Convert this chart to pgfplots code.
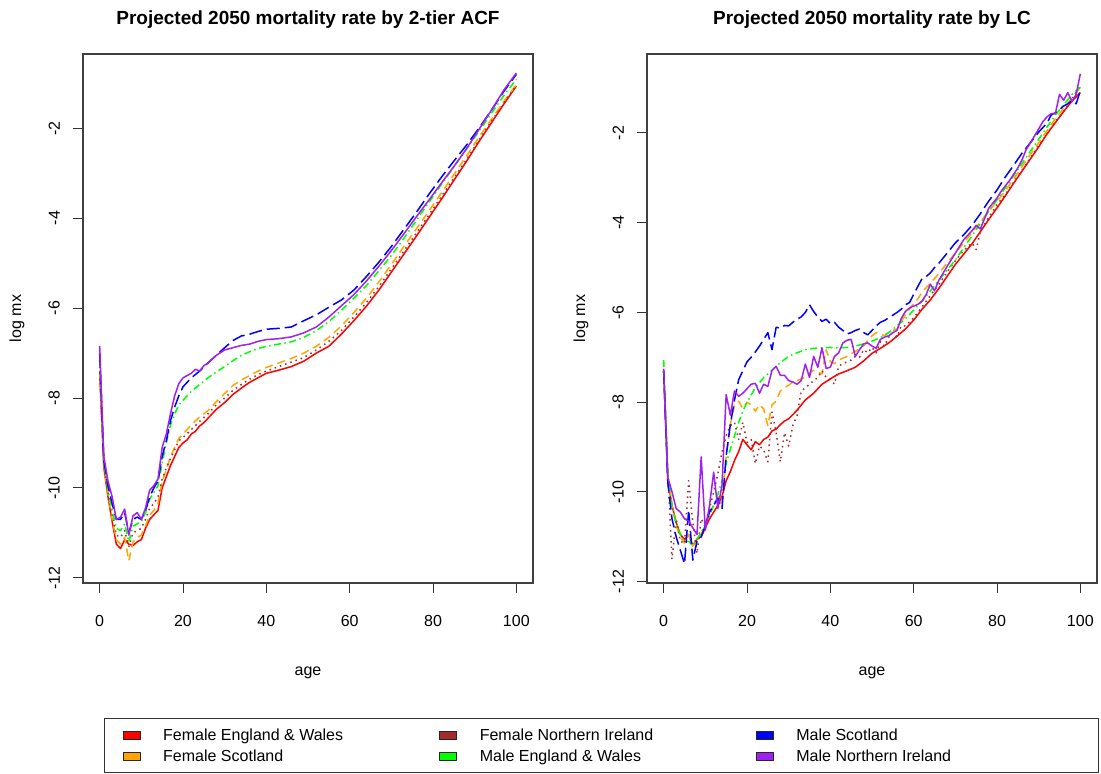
\documentclass[border=0pt]{standalone}
\usepackage{fontspec}
\setmainfont{Liberation Sans}
\usepackage{pgfplots}
\pgfplotsset{compat=1.18}

\definecolor{rred}{RGB}{255,0,0}
\definecolor{rorange}{RGB}{255,165,0}
\definecolor{rbrown}{RGB}{165,42,42}
\definecolor{rgreen}{RGB}{0,255,0}
\definecolor{rblue}{RGB}{0,0,255}
\definecolor{rpurple}{RGB}{160,32,240}

\newcommand{\lblfont}{\fontsize{16}{19}\selectfont}

\pgfplotsset{
  panel/.style={
    width=450pt, height=529pt, scale only axis,
    xmin=-4, xmax=104,
    xtick={0,20,...,100}, ytick={-12,-10,...,-2},
    tick pos=left, tick align=outside, major tick length=10pt,
    axis line style={line width=1.2pt, draw=black!75},
    every tick/.style={line width=1pt, black!80},
    tick label style={font=\lblfont},
    /pgf/number format/assume math mode=true,
    xticklabel style={inner ysep=22pt},
    yticklabel style={rotate=90, anchor=south, inner ysep=13pt},
    xlabel={age}, ylabel={log mx},
    label style={font=\lblfont},
    xlabel style={at={(axis description cs:0.5,-0.170)}, anchor=center},
    ylabel style={at={(axis description cs:-0.1467,0.5)}, anchor=center},
    title style={at={(axis description cs:0.5,1.053)}, anchor=center,
                 font=\bfseries\fontsize{19}{22}\selectfont},
    every axis plot/.append style={line width=1.5pt, line join=round, forget plot},
  },
  few/.style={rred, solid},
  fs/.style={rorange, dash pattern=on 8pt off 5pt},
  fni/.style={rbrown, dash pattern=on 1.5pt off 4pt},
  mew/.style={rgreen, dash pattern=on 7pt off 3.5pt on 1.5pt off 3.5pt},
  ms/.style={rblue, dash pattern=on 13pt off 5pt},
  mni/.style={rpurple, solid},
}

\begin{document}
\begin{tikzpicture}
\useasboundingbox (0,0) rectangle (1101pt,774pt);

% ---------------- 2-tier ACF projection ----------------
\begin{axis}[panel, at={(83pt,191pt)}, anchor=south west,
  ymin=-12.115, ymax=-0.347,
  title={Projected 2050 mortality rate by 2-tier ACF},
  legend columns=3, legend cell align=left,
  legend image code/.code={\draw[#1, draw=black!85, line width=0.6pt] (0pt,-4pt) rectangle (17pt,4pt);},
  legend style={at={(axis description cs:0.0467,-0.2552)}, anchor=north west,
    draw=black!80, line width=1.2pt, inner xsep=18pt, inner ysep=8pt,
    font=\lblfont, row sep=4pt,
    /tikz/every odd column/.append style={column sep=21pt},
    /tikz/every even column/.append style={column sep=1pt}},
]
\addlegendimage{fill=rred}
\addlegendentry{\makebox[273pt][l]{Female England \& Wales}}
\addlegendimage{fill=rbrown}
\addlegendentry{\makebox[273pt][l]{Female Northern Ireland}}
\addlegendimage{fill=rblue}
\addlegendentry{\makebox[282pt][l]{Male Scotland}}
\addlegendimage{fill=rorange}
\addlegendentry{\makebox[273pt][l]{Female Scotland}}
\addlegendimage{fill=rgreen}
\addlegendentry{\makebox[273pt][l]{Male England \& Wales}}
\addlegendimage{fill=rpurple}
\addlegendentry{\makebox[282pt][l]{Male Northern Ireland}}

% Female England & Wales
\addplot[few] table {
0 -7.45
1 -9.55
2 -10.2
3 -10.75
4 -11.25
5 -11.35
6 -11.15
7 -11.25
8 -11.28
9 -11.2
10 -11.15
11 -10.9
12 -10.7
13 -10.6
14 -10.5
15 -10.0
16 -9.75
17 -9.5
18 -9.3
19 -9.1
20 -9.0
21 -8.93
22 -8.8
23 -8.74
24 -8.62
25 -8.55
26 -8.45
28 -8.25
30 -8.1
32 -7.92
34 -7.78
36 -7.65
38 -7.55
40 -7.45
43 -7.38
46 -7.3
49 -7.18
52 -7.0
55 -6.85
58 -6.58
61 -6.28
64 -5.96
67 -5.6
70 -5.2
73 -4.8
76 -4.4
79 -3.99
82 -3.58
85 -3.16
88 -2.74
91 -2.3
94 -1.88
97 -1.46
100 -1.06
};
% Female Scotland
\addplot[fs] table {
0 -7.4
1 -9.5
2 -10.15
3 -10.7
4 -11.15
5 -11.25
6 -11.1
7 -11.62
8 -11.2
9 -11.1
10 -11.05
11 -10.85
12 -10.6
13 -10.5
14 -10.35
15 -9.85
16 -9.6
17 -9.3
18 -9.1
19 -8.9
20 -8.8
22 -8.6
24 -8.42
26 -8.28
28 -8.08
30 -7.9
32 -7.72
34 -7.6
36 -7.5
38 -7.4
40 -7.32
43 -7.22
46 -7.12
49 -7.0
52 -6.85
55 -6.65
58 -6.4
61 -6.1
64 -5.78
67 -5.42
70 -5.03
73 -4.63
76 -4.24
79 -3.84
82 -3.44
85 -3.03
88 -2.62
91 -2.2
94 -1.8
97 -1.4
100 -1.03
};
% Female Northern Ireland
\addplot[fni] table {
0 -7.3
1 -9.45
2 -10.1
3 -10.6
4 -11.05
5 -11.1
6 -10.95
7 -11.3
8 -11.0
9 -10.95
10 -10.9
11 -10.7
12 -10.45
13 -10.35
14 -10.2
15 -9.8
16 -9.55
17 -9.35
18 -9.15
19 -8.95
20 -8.88
22 -8.7
24 -8.52
26 -8.35
28 -8.15
30 -8.0
32 -7.83
34 -7.7
36 -7.58
38 -7.48
40 -7.4
43 -7.3
46 -7.2
49 -7.1
52 -6.93
55 -6.74
58 -6.5
61 -6.2
64 -5.88
67 -5.52
70 -5.13
73 -4.73
76 -4.33
79 -3.93
82 -3.52
85 -3.11
88 -2.7
91 -2.27
94 -1.85
97 -1.44
100 -1.04
};
% Male England & Wales
\addplot[mew] table {
0 -7.15
1 -9.45
2 -10.05
3 -10.5
4 -10.9
5 -10.95
6 -10.8
7 -11.2
8 -10.85
9 -10.8
10 -10.75
11 -10.55
12 -10.25
13 -10.1
14 -9.95
15 -9.45
16 -9.0
17 -8.6
18 -8.35
19 -8.15
20 -8.05
22 -7.85
24 -7.7
26 -7.55
28 -7.42
30 -7.3
32 -7.17
34 -7.05
36 -6.97
38 -6.9
40 -6.85
43 -6.8
46 -6.75
49 -6.65
52 -6.5
55 -6.3
58 -6.05
61 -5.78
64 -5.5
67 -5.17
70 -4.83
73 -4.45
76 -4.05
79 -3.65
82 -3.25
85 -2.86
88 -2.47
91 -2.07
94 -1.67
97 -1.27
100 -0.91
};
% Male Scotland
\addplot[ms] table {
0 -7.0
1 -9.4
2 -9.95
3 -10.35
4 -10.7
5 -10.7
6 -10.55
7 -11.0
8 -10.7
9 -10.65
10 -10.7
11 -10.5
12 -10.2
13 -10.0
14 -9.85
15 -9.3
16 -8.95
17 -8.5
18 -8.2
19 -7.95
20 -7.75
22 -7.55
24 -7.4
26 -7.22
28 -7.05
30 -6.88
32 -6.72
34 -6.62
36 -6.58
38 -6.52
40 -6.47
43 -6.45
46 -6.42
49 -6.28
52 -6.15
55 -5.98
58 -5.82
61 -5.6
64 -5.3
67 -4.98
70 -4.63
73 -4.25
76 -3.87
79 -3.47
82 -3.09
85 -2.73
88 -2.38
91 -2.0
94 -1.6
97 -1.18
100 -0.8
};
% Male Northern Ireland
\addplot[mni] table {
0 -6.84
1 -9.3
2 -9.85
3 -10.2
4 -10.7
5 -10.65
6 -10.47
7 -11.05
8 -10.62
9 -10.55
10 -10.7
11 -10.45
12 -10.05
13 -9.95
14 -9.8
15 -9.1
16 -8.8
17 -8.35
18 -7.95
19 -7.68
20 -7.55
21 -7.5
22 -7.45
23 -7.36
24 -7.4
25 -7.28
26 -7.22
28 -7.05
30 -6.93
32 -6.88
34 -6.83
36 -6.8
38 -6.74
40 -6.7
43 -6.68
46 -6.64
49 -6.55
52 -6.42
55 -6.2
58 -5.95
61 -5.7
64 -5.4
67 -5.07
70 -4.72
73 -4.35
76 -3.97
79 -3.6
82 -3.22
85 -2.85
88 -2.46
91 -2.03
94 -1.6
97 -1.15
100 -0.77
};
\end{axis}

% ---------------- Lee-Carter projection ----------------
\begin{axis}[panel, at={(647pt,191pt)}, anchor=south west,
  ymin=-12.03, ymax=-0.24,
  title={Projected 2050 mortality rate by LC},
]
% Female England & Wales
\addplot[few] table {
0 -7.3
1 -9.75
2 -10.3
3 -10.68
4 -10.95
5 -11.06
6 -10.95
7 -11.2
8 -11.05
9 -11.0
10 -10.8
11 -10.6
12 -10.45
13 -10.3
14 -10.1
15 -9.75
16 -9.55
17 -9.3
18 -9.1
19 -8.83
20 -8.95
21 -9.06
22 -8.88
23 -8.95
24 -8.83
25 -8.78
26 -8.64
27 -8.6
28 -8.5
29 -8.42
30 -8.37
32 -8.18
34 -7.95
36 -7.8
38 -7.6
40 -7.48
42 -7.37
44 -7.3
46 -7.22
48 -7.08
50 -6.91
52 -6.8
54 -6.68
56 -6.53
58 -6.37
60 -6.17
62 -5.93
64 -5.72
66 -5.47
68 -5.2
70 -4.93
72 -4.7
74 -4.47
76 -4.2
78 -3.93
80 -3.67
82 -3.4
84 -3.12
86 -2.85
88 -2.58
90 -2.31
92 -2.02
94 -1.77
96 -1.52
98 -1.29
100 -1.1
};
% Female Scotland
\addplot[fs] table {
0 -7.3
1 -9.7
2 -10.3
3 -10.75
4 -11.0
5 -11.14
6 -10.95
7 -11.2
8 -11.1
9 -10.95
10 -10.7
11 -10.45
12 -10.3
13 -10.1
14 -10.25
15 -9.2
16 -8.5
17 -8.06
18 -7.98
19 -8.14
20 -8.0
21 -8.06
22 -8.2
23 -8.06
24 -8.15
25 -8.52
26 -8.06
27 -7.98
28 -7.75
29 -7.68
30 -7.62
31 -7.55
32 -7.52
33 -7.48
34 -7.45
35 -7.35
36 -7.29
37 -7.33
38 -7.37
39 -6.83
40 -7.1
41 -7.14
42 -7.06
43 -7.02
44 -6.98
45 -6.92
46 -6.87
47 -6.8
48 -6.75
49 -6.62
50 -6.52
51 -6.45
52 -6.48
53 -6.52
54 -6.45
55 -6.4
56 -6.37
57 -6.2
58 -6.06
59 -5.92
60 -5.8
61 -5.7
62 -5.55
63 -5.45
64 -5.35
66 -5.14
68 -4.9
70 -4.68
72 -4.45
74 -4.22
76 -3.98
78 -3.75
80 -3.52
82 -3.29
84 -3.02
86 -2.75
88 -2.48
90 -2.22
92 -1.95
94 -1.68
96 -1.45
98 -1.22
100 -0.98
};
% Female Northern Ireland
\addplot[fni] table {
0 -7.3
1 -9.6
2 -11.5
3 -10.6
4 -11.1
5 -11.15
6 -9.75
7 -10.68
8 -11.37
9 -10.6
10 -10.75
11 -10.37
12 -10.0
13 -9.6
14 -9.1
15 -8.75
16 -8.52
17 -8.45
18 -8.83
19 -8.45
20 -8.9
21 -8.83
22 -9.37
23 -8.98
24 -9.06
25 -9.33
26 -8.22
27 -8.68
28 -9.33
29 -8.68
30 -8.98
31 -8.52
32 -8.3
33 -7.75
34 -7.68
35 -7.6
36 -7.52
37 -7.45
38 -7.3
39 -7.45
40 -7.5
41 -7.6
42 -7.2
43 -7.14
44 -7.1
45 -7.06
46 -6.98
47 -7.0
48 -6.83
49 -6.9
50 -6.78
51 -6.9
52 -6.65
53 -6.75
54 -6.55
55 -6.45
56 -6.55
57 -6.3
58 -6.3
60 -6.12
62 -5.88
64 -5.62
66 -5.38
68 -5.1
70 -4.85
72 -4.62
74 -4.45
75 -4.6
76 -4.2
78 -3.88
80 -3.6
82 -3.37
84 -3.1
86 -2.83
88 -2.56
90 -2.29
92 -2.02
94 -1.75
96 -1.52
98 -1.25
100 -0.95
};
% Male England & Wales
\addplot[mew] table {
0 -7.06
1 -9.6
2 -10.3
3 -10.7
4 -10.95
5 -11.1
6 -11.1
7 -11.2
8 -11.05
9 -10.9
10 -10.72
11 -10.52
12 -10.3
13 -10.06
14 -9.75
15 -9.37
16 -9.05
17 -8.75
18 -8.45
19 -8.2
20 -8.0
22 -7.68
24 -7.45
26 -7.29
28 -7.12
30 -6.98
32 -6.9
34 -6.83
36 -6.8
38 -6.79
40 -6.78
42 -6.79
44 -6.78
46 -6.75
48 -6.7
50 -6.64
52 -6.56
54 -6.45
56 -6.3
58 -6.14
60 -5.95
62 -5.75
64 -5.52
66 -5.29
68 -5.06
70 -4.83
72 -4.56
74 -4.29
76 -4.02
78 -3.75
80 -3.49
82 -3.22
84 -2.95
86 -2.68
88 -2.41
90 -2.14
92 -1.87
94 -1.6
96 -1.37
98 -1.14
100 -0.98
};
% Male Scotland
\addplot[ms] table {
0 -7.3
1 -9.8
2 -10.6
3 -11.0
4 -11.3
5 -11.6
6 -10.4
7 -11.52
8 -11.1
9 -11.0
10 -10.75
11 -10.45
12 -10.3
13 -10.14
14 -10.37
15 -9.2
16 -8.5
17 -7.95
18 -7.5
19 -7.3
20 -7.1
21 -7.0
22 -6.88
23 -6.75
24 -6.6
25 -6.45
26 -6.83
27 -6.33
28 -6.35
29 -6.29
30 -6.3
31 -6.22
32 -6.15
33 -6.1
34 -6.0
35 -5.83
36 -5.98
37 -6.1
38 -6.2
39 -6.15
40 -6.25
41 -6.22
42 -6.33
43 -6.4
44 -6.48
45 -6.45
46 -6.4
47 -6.37
48 -6.45
49 -6.5
50 -6.4
51 -6.3
52 -6.22
53 -6.18
54 -6.12
55 -6.06
56 -6.0
57 -5.93
58 -5.83
59 -5.78
60 -5.6
61 -5.42
62 -5.25
63 -5.2
64 -5.12
65 -5.0
66 -4.91
68 -4.68
70 -4.45
72 -4.27
74 -4.06
76 -3.8
78 -3.52
80 -3.27
82 -2.98
84 -2.72
86 -2.45
88 -2.22
90 -1.98
92 -1.78
93 -1.6
94 -1.55
95 -1.48
96 -1.4
97 -1.35
98 -1.28
99 -1.35
100 -1.06
};
% Male Northern Ireland
\addplot[mni] table {
0 -7.25
1 -9.68
2 -10.0
3 -10.37
4 -10.45
5 -10.6
6 -10.65
7 -10.8
8 -10.95
9 -9.22
10 -10.85
11 -10.3
12 -9.56
13 -10.37
14 -9.85
15 -7.83
16 -8.29
17 -7.75
18 -7.87
19 -7.8
20 -7.7
21 -7.6
22 -7.58
23 -7.8
24 -7.6
25 -7.65
26 -7.29
27 -7.2
28 -7.4
29 -7.4
30 -7.52
31 -7.55
32 -7.6
33 -7.52
34 -7.15
35 -7.45
36 -6.98
37 -7.22
38 -6.79
39 -7.25
40 -7.22
41 -6.98
42 -6.9
43 -6.68
44 -6.62
45 -6.6
46 -6.98
47 -6.83
48 -6.7
49 -6.68
50 -6.75
51 -6.8
52 -6.6
53 -6.55
54 -6.52
55 -6.45
56 -6.4
57 -6.14
58 -5.98
59 -5.9
60 -5.86
61 -5.82
62 -5.75
63 -5.6
64 -5.37
65 -5.52
66 -5.29
68 -4.98
70 -4.68
72 -4.38
74 -4.18
75 -4.06
76 -4.14
78 -3.68
80 -3.45
81 -3.3
83 -3.06
85 -2.78
86 -2.6
87 -2.37
88 -2.22
90 -1.91
91 -1.75
92 -1.64
93 -1.57
94 -1.57
95 -1.14
96 -1.27
97 -1.1
98 -1.3
99 -1.14
100 -0.68
};
\end{axis}
\end{tikzpicture}
\end{document}
